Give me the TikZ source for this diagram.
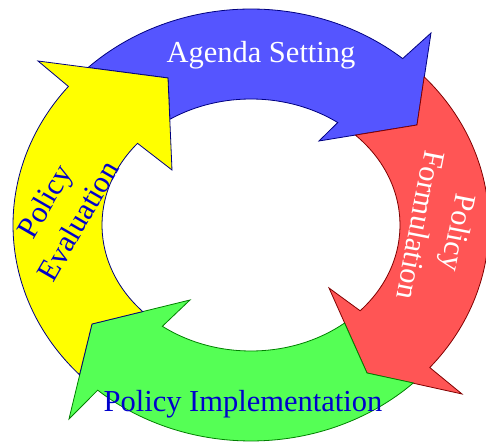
\documentclass[tikz,border=0pt]{standalone}
\usepackage{fontspec}
\setmainfont{Liberation Serif}
\definecolor{agendafill}{RGB}{85,85,255}
\definecolor{agendaline}{RGB}{0,0,128}
\definecolor{formfill}{RGB}{255,85,85}
\definecolor{formline}{RGB}{128,0,0}
\definecolor{implfill}{RGB}{85,255,85}
\definecolor{implline}{RGB}{0,128,0}
\definecolor{evalfill}{RGB}{255,255,0}
\definecolor{evalline}{RGB}{0,0,128}
\definecolor{textblue}{RGB}{0,0,204}
\begin{document}
\begin{tikzpicture}[scale=0.0351459,
    stage/.style={line width=0.8pt, line join=miter},
    stagetext/.style={font=\fontsize{30.5}{39}\selectfont, align=center, inner sep=0pt}]
\useasboundingbox (-251,-220) rectangle (235,225);

% Arrow tips
\coordinate (tipA) at (166,100);
\coordinate (tipF) at (116,-148);
\coordinate (tipI) at (-159,-99);
\coordinate (tipE) at (-83,147);

% Drawing arrow Agenda Setting
\filldraw [stage, draw=agendaline, fill=agendafill]
  (133.2:238 and 216) arc [start angle=133.2, end angle=50.4, x radius=238, y radius=216]
  -- (180,192) -- (tipA) -- (68,84) -- (54.4:149 and 126)
  arc [start angle=54.4, end angle=123.0, x radius=149, y radius=126]
  -- (tipE) -- cycle;

% Drawing arrow Policy Formulation
\filldraw [stage, draw=formline, fill=formfill]
  (43.3:238 and 216) arc [start angle=43.3, end angle=-41.3, x radius=238, y radius=216]
  -- (211,-169) -- (tipF) -- (78,-63) -- (-42.9:149 and 126)
  arc [start angle=-42.9, end angle=45.5, x radius=149, y radius=126]
  -- (tipA) -- cycle;

% Drawing arrow Policy Implementation
\filldraw [stage, draw=implline, fill=implfill]
  (-47:238 and 216) arc [start angle=-47, end angle=-130.1, x radius=238, y radius=216]
  -- (-182,-194) -- (tipI) -- (-61,-75) -- (-126.5:149 and 126)
  arc [start angle=-126.5, end angle=-51.1, x radius=149, y radius=126]
  -- (tipF) -- cycle;

% Drawing arrow Policy Evaluation
\filldraw [stage, draw=evalline, fill=evalfill]
  (223.9:238 and 216) arc [start angle=223.9, end angle=140.1, x radius=238, y radius=216]
  -- (-213,164) -- (tipE) -- (-79,55) -- (139.6:149 and 126)
  arc [start angle=139.6, end angle=223.4, x radius=149, y radius=126]
  -- (tipI) -- cycle;

% Labels
\node [stagetext, text=white, anchor=base] (agenda) at (10,162) {Agenda Setting};
\node [stagetext, text=white, rotate=-101] (formulate) at (189,-4) {Policy\\Formulation};
\node [stagetext, text=textblue, anchor=base] (implement) at (-8,-187) {Policy Implementation};
\node [stagetext, text=textblue, rotate=60] (evaluate) at (-190,14) {Policy\\Evaluation};
\end{tikzpicture}
\end{document}
